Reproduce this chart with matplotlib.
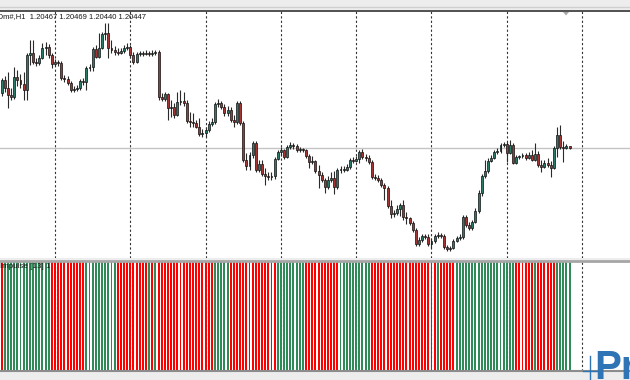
import matplotlib
matplotlib.use("Agg")
import numpy as np
import matplotlib.pyplot as plt

# EURUSD H1 candles (oldest first)
opens = [1.2100, 1.2113, 1.2105, 1.2098, 1.2096, 1.2116, 1.2113, 1.2109, 1.2103, 1.2138,
         1.2140, 1.2131, 1.2130, 1.2135, 1.2145, 1.2146, 1.2138, 1.2129, 1.2131, 1.2130,
         1.2115, 1.2114, 1.2110, 1.2103, 1.2104, 1.2105, 1.2112, 1.2111, 1.2125, 1.2126,
         1.2144, 1.2136, 1.2145, 1.2159, 1.2160, 1.2145, 1.2143, 1.2141, 1.2140, 1.2142,
         1.2145, 1.2146, 1.2138, 1.2131, 1.2139, 1.2140, 1.2139, 1.2140, 1.2139, 1.2140,
         1.2141, 1.2096, 1.2094, 1.2099, 1.2085, 1.2086, 1.2078, 1.2091, 1.2092, 1.2090,
         1.2072, 1.2071, 1.2070, 1.2066, 1.2059, 1.2060, 1.2063, 1.2069, 1.2071, 1.2089,
         1.2090, 1.2086, 1.2080, 1.2083, 1.2073, 1.2071, 1.2090, 1.2070, 1.2033, 1.2027,
         1.2038, 1.2050, 1.2023, 1.2029, 1.2019, 1.2017, 1.2016, 1.2017, 1.2034, 1.2041,
         1.2043, 1.2036, 1.2046, 1.2048, 1.2047, 1.2043, 1.2044, 1.2043, 1.2037, 1.2031,
         1.2032, 1.2022, 1.2018, 1.2013, 1.2006, 1.2013, 1.2015, 1.2006, 1.2023, 1.2024,
         1.2023, 1.2026, 1.2033, 1.2032, 1.2034, 1.2041, 1.2036, 1.2035, 1.2031, 1.2016,
         1.2015, 1.2013, 1.2008, 1.2005, 1.1987, 1.1979, 1.1980, 1.1984, 1.1988, 1.1976,
         1.1975, 1.1970, 1.1963, 1.1949, 1.1953, 1.1957, 1.1956, 1.1949, 1.1952, 1.1957,
         1.1958, 1.1957, 1.1946, 1.1944, 1.1945, 1.1952, 1.1955, 1.1956, 1.1976, 1.1968,
         1.1965, 1.1971, 1.1982, 1.2000, 1.2017, 1.2022, 1.2032, 1.2035, 1.2041, 1.2042,
         1.2048, 1.2049, 1.2040, 1.2048, 1.2030, 1.2036, 1.2037, 1.2038, 1.2035, 1.2038,
         1.2033, 1.2039, 1.2028, 1.2026, 1.2030, 1.2028, 1.2025, 1.2045, 1.2058, 1.2046,
         1.2045, 1.20467]
closes = [1.2113, 1.2105, 1.2098, 1.2096, 1.2116, 1.2113, 1.2109, 1.2103, 1.2138, 1.2140,
          1.2131, 1.2130, 1.2135, 1.2145, 1.2146, 1.2138, 1.2129, 1.2131, 1.2130, 1.2115,
          1.2114, 1.2110, 1.2103, 1.2104, 1.2105, 1.2112, 1.2111, 1.2125, 1.2126, 1.2144,
          1.2136, 1.2145, 1.2159, 1.2160, 1.2145, 1.2143, 1.2141, 1.2140, 1.2142, 1.2145,
          1.2146, 1.2138, 1.2131, 1.2139, 1.2140, 1.2139, 1.2140, 1.2139, 1.2140, 1.2141,
          1.2096, 1.2094, 1.2099, 1.2085, 1.2086, 1.2078, 1.2091, 1.2092, 1.2090, 1.2072,
          1.2071, 1.2070, 1.2066, 1.2059, 1.2060, 1.2063, 1.2069, 1.2071, 1.2089, 1.2090,
          1.2086, 1.2080, 1.2083, 1.2073, 1.2071, 1.2090, 1.2070, 1.2033, 1.2027, 1.2038,
          1.2050, 1.2023, 1.2029, 1.2019, 1.2017, 1.2016, 1.2017, 1.2034, 1.2041, 1.2043,
          1.2036, 1.2046, 1.2048, 1.2047, 1.2043, 1.2044, 1.2043, 1.2037, 1.2031, 1.2032,
          1.2022, 1.2018, 1.2013, 1.2006, 1.2013, 1.2015, 1.2006, 1.2023, 1.2024, 1.2023,
          1.2026, 1.2033, 1.2032, 1.2034, 1.2041, 1.2036, 1.2035, 1.2031, 1.2016, 1.2015,
          1.2013, 1.2008, 1.2005, 1.1987, 1.1979, 1.1980, 1.1984, 1.1988, 1.1976, 1.1975,
          1.1970, 1.1963, 1.1949, 1.1953, 1.1957, 1.1956, 1.1949, 1.1952, 1.1957, 1.1958,
          1.1957, 1.1946, 1.1944, 1.1945, 1.1952, 1.1955, 1.1956, 1.1976, 1.1968, 1.1965,
          1.1971, 1.1982, 1.2000, 1.2017, 1.2022, 1.2032, 1.2035, 1.2041, 1.2042, 1.2048,
          1.2049, 1.2040, 1.2048, 1.2030, 1.2036, 1.2037, 1.2038, 1.2035, 1.2038, 1.2033,
          1.2039, 1.2028, 1.2026, 1.2030, 1.2028, 1.2025, 1.2045, 1.2058, 1.2046, 1.2045,
          1.2047, 1.20447]
highs = [1.2115, 1.2117, 1.2121, 1.2105, 1.2126, 1.2123, 1.2119, 1.2121, 1.2140, 1.2153,
         1.2153, 1.2135, 1.2138, 1.2150, 1.2151, 1.2149, 1.2140, 1.2134, 1.2133, 1.2132,
         1.2118, 1.2117, 1.2112, 1.2107, 1.2108, 1.2114, 1.2115, 1.2127, 1.2129, 1.2146,
         1.2148, 1.2160, 1.2161, 1.2170, 1.2170, 1.2153, 1.2147, 1.2145, 1.2145, 1.2148,
         1.2150, 1.2148, 1.2141, 1.2141, 1.2142, 1.2142, 1.2143, 1.2142, 1.2143, 1.2143,
         1.2143, 1.2100, 1.2101, 1.2100, 1.2093, 1.2090, 1.2101, 1.2103, 1.2101, 1.2093,
         1.2081, 1.2080, 1.2073, 1.2075, 1.2064, 1.2066, 1.2072, 1.2075, 1.2091, 1.2094,
         1.2092, 1.2089, 1.2087, 1.2086, 1.2078, 1.2092, 1.2092, 1.2072, 1.2040, 1.2041,
         1.2052, 1.2052, 1.2033, 1.2033, 1.2025, 1.2021, 1.2021, 1.2036, 1.2043, 1.2046,
         1.2044, 1.2048, 1.2051, 1.2050, 1.2049, 1.2046, 1.2045, 1.2044, 1.2039, 1.2037,
         1.2033, 1.2028, 1.2021, 1.2015, 1.2017, 1.2021, 1.2022, 1.2025, 1.2027, 1.2027,
         1.2029, 1.2035, 1.2036, 1.2037, 1.2043, 1.2044, 1.2039, 1.2038, 1.2033, 1.2019,
         1.2018, 1.2015, 1.2010, 1.2007, 1.1993, 1.1983, 1.1988, 1.1990, 1.1993, 1.1981,
         1.1976, 1.1972, 1.1965, 1.1956, 1.1959, 1.1959, 1.1959, 1.1955, 1.1959, 1.1961,
         1.1960, 1.1959, 1.1948, 1.1947, 1.1954, 1.1957, 1.1959, 1.1978, 1.1978, 1.1971,
         1.1973, 1.1985, 1.2003, 1.2019, 1.2033, 1.2035, 1.2038, 1.2043, 1.2045, 1.2050,
         1.2051, 1.2051, 1.2053, 1.2050, 1.2038, 1.2038, 1.2040, 1.2040, 1.2041, 1.2043,
         1.2050, 1.2042, 1.2033, 1.2033, 1.2035, 1.2032, 1.2047, 1.2066, 1.2068, 1.2052,
         1.2049, 1.20469]
lows = [1.2097, 1.2101, 1.2085, 1.2093, 1.2094, 1.2107, 1.2105, 1.2093, 1.2093, 1.2128,
        1.2129, 1.2127, 1.2128, 1.2134, 1.2138, 1.2135, 1.2125, 1.2127, 1.2127, 1.2113,
        1.2111, 1.2108, 1.2101, 1.2101, 1.2102, 1.2103, 1.2108, 1.2103, 1.2122, 1.2122,
        1.2135, 1.2135, 1.2144, 1.2153, 1.2135, 1.2140, 1.2138, 1.2138, 1.2139, 1.2140,
        1.2143, 1.2135, 1.2129, 1.2130, 1.2137, 1.2137, 1.2138, 1.2137, 1.2137, 1.2138,
        1.2093, 1.2092, 1.2092, 1.2073, 1.2076, 1.2075, 1.2077, 1.2088, 1.2087, 1.2070,
        1.2066, 1.2066, 1.2065, 1.2057, 1.2056, 1.2056, 1.2061, 1.2067, 1.2069, 1.2086,
        1.2084, 1.2077, 1.2077, 1.2071, 1.2066, 1.2069, 1.2068, 1.2031, 1.2023, 1.2023,
        1.2035, 1.2021, 1.2021, 1.2017, 1.2008, 1.2013, 1.2013, 1.2014, 1.2033, 1.2037,
        1.2034, 1.2035, 1.2044, 1.2044, 1.2041, 1.2041, 1.2041, 1.2035, 1.2025, 1.2029,
        1.2020, 1.2005, 1.2011, 1.2000, 1.2004, 1.2011, 1.1999, 1.2004, 1.2020, 1.2021,
        1.2022, 1.2024, 1.2030, 1.2031, 1.2030, 1.2034, 1.2032, 1.2029, 1.2014, 1.2013,
        1.2011, 1.2006, 1.1993, 1.1985, 1.1975, 1.1976, 1.1978, 1.1977, 1.1973, 1.1969,
        1.1968, 1.1961, 1.1947, 1.1947, 1.1951, 1.1954, 1.1947, 1.1945, 1.1950, 1.1955,
        1.1955, 1.1944, 1.1942, 1.1942, 1.1944, 1.1951, 1.1953, 1.1954, 1.1966, 1.1963,
        1.1963, 1.1970, 1.1980, 1.1997, 1.2015, 1.2020, 1.2031, 1.2034, 1.2039, 1.2040,
        1.2046, 1.2031, 1.2039, 1.2029, 1.2029, 1.2034, 1.2035, 1.2033, 1.2034, 1.2032,
        1.2032, 1.2026, 1.2021, 1.2025, 1.2026, 1.2016, 1.2024, 1.2036, 1.2044, 1.2031,
        1.2044, 1.20440]

# impulse histogram: runs of (colour, number of bars)
impulse_runs = [("r", 1), ("g", 15), ("r", 11), ("g", 10), ("r", 10), ("g", 1), ("r", 1),
                ("g", 1), ("r", 18), ("g", 5), ("r", 15), ("g", 9), ("r", 11), ("g", 10),
                ("r", 21), ("g", 1), ("r", 5), ("g", 19), ("r", 6), ("g", 1), ("r", 6),
                ("g", 5)]

symbol = "EURUSDm#,H1"
indicator_label = "Impulse [13] 1"
day_start_bars = [17, 41, 65, 89, 113, 137, 161, 185]

W, H = 630, 380
n = len(opens)
x = np.arange(n)
o, c, hi, lo = map(np.array, (opens, closes, highs, lows))
impulse = [col for col, k in impulse_runs for _ in range(k)]

fig = plt.figure(figsize=(W / 100, H / 100), dpi=100, facecolor="#ededed")

def px_axes(top, bottom):
    return fig.add_axes([0, 1 - bottom / H, 1, (bottom - top) / H])

xlim = (-0.53, 200.27)

# ---- price window ----
ax = px_axes(11, 258)
ax.set_facecolor("white")
ax.set_xlim(*xlim)
ax.set_ylim(1.1935, 1.2182)
ax.set_xticks([]); ax.set_yticks([])
for s in ("left", "right", "bottom"):
    ax.spines[s].set_visible(False)
ax.spines["top"].set_color("#505050")
ax.spines["top"].set_linewidth(1.4)

for g in day_start_bars:
    ax.axvline(g, color="#333333", lw=0.8, ls=(0, (2, 2)), zorder=1)
ax.axhline(closes[-1], color="#c4c4c4", lw=1.0, zorder=1)

up = c >= o
ax.vlines(x, lo, hi, color="#2a2a2a", lw=0.8, zorder=2)
body = np.maximum(np.abs(c - o), 0.00003)
ax.bar(x[up], body[up], bottom=np.minimum(o, c)[up], width=0.62,
       color="#2b7a68", edgecolor="#111111", linewidth=0.5, zorder=3)
ax.bar(x[~up], body[~up], bottom=np.minimum(o, c)[~up], width=0.62,
       color="#a33535", edgecolor="#111111", linewidth=0.5, zorder=3)

# ---- impulse window ----
axi = px_axes(261, 371)
axi.set_facecolor("white")
axi.set_xlim(*xlim)
axi.set_ylim(0, 1)
axi.set_xticks([]); axi.set_yticks([])
for s in ("left", "right"):
    axi.spines[s].set_visible(False)
axi.spines["top"].set_color("#a6a6a6")
axi.spines["top"].set_linewidth(2)
axi.spines["bottom"].set_color("#8c8c8c")
axi.spines["bottom"].set_linewidth(1.5)
for g in day_start_bars:
    axi.axvline(g, color="#333333", lw=0.8, ls=(0, (2, 2)), zorder=1)
colors = ["#ff0000" if k == "r" else "#2e8b57" for k in impulse]
axi.bar(x, np.ones(n), width=0.62, color=colors, linewidth=0, zorder=2)

# ---- overlay in pixel coordinates for labels / marks ----
ov = fig.add_axes([0, 0, 1, 1])
ov.set_xlim(0, W); ov.set_ylim(H, 0)
ov.axis("off")
ov.patch.set_alpha(0)

header = f"{symbol}  {opens[-1]:.5f} {highs[-1]:.5f} {lows[-1]:.5f} {closes[-1]:.5f}"
ov.text(-29, 17, header, fontsize=5.5, family="Liberation Sans", va="center",
        color="#1a1a1a")
ov.text(0, 267, indicator_label, fontsize=5.8, family="Liberation Sans", va="center",
        color="#1a1a1a")
ov.fill([563, 569, 566], [12, 12, 15.5], color="#a8a8a8", lw=0)
ov.plot([0, W], [6.5, 6.5], color="#d0d0d0", lw=1)

# watermark logo, cut off at the right edge
ov.text(594, 379, "Pro", fontsize=29, weight="bold", family="Liberation Sans",
        color="#2f74b5", va="baseline", ha="left")
ov.plot([590, 590], [356, 380], color="#2f74b5", lw=1)
ov.plot([583, 598], [371, 371], color="#2f74b5", lw=1)

fig.savefig("out.png", dpi=100, facecolor=fig.get_facecolor())
